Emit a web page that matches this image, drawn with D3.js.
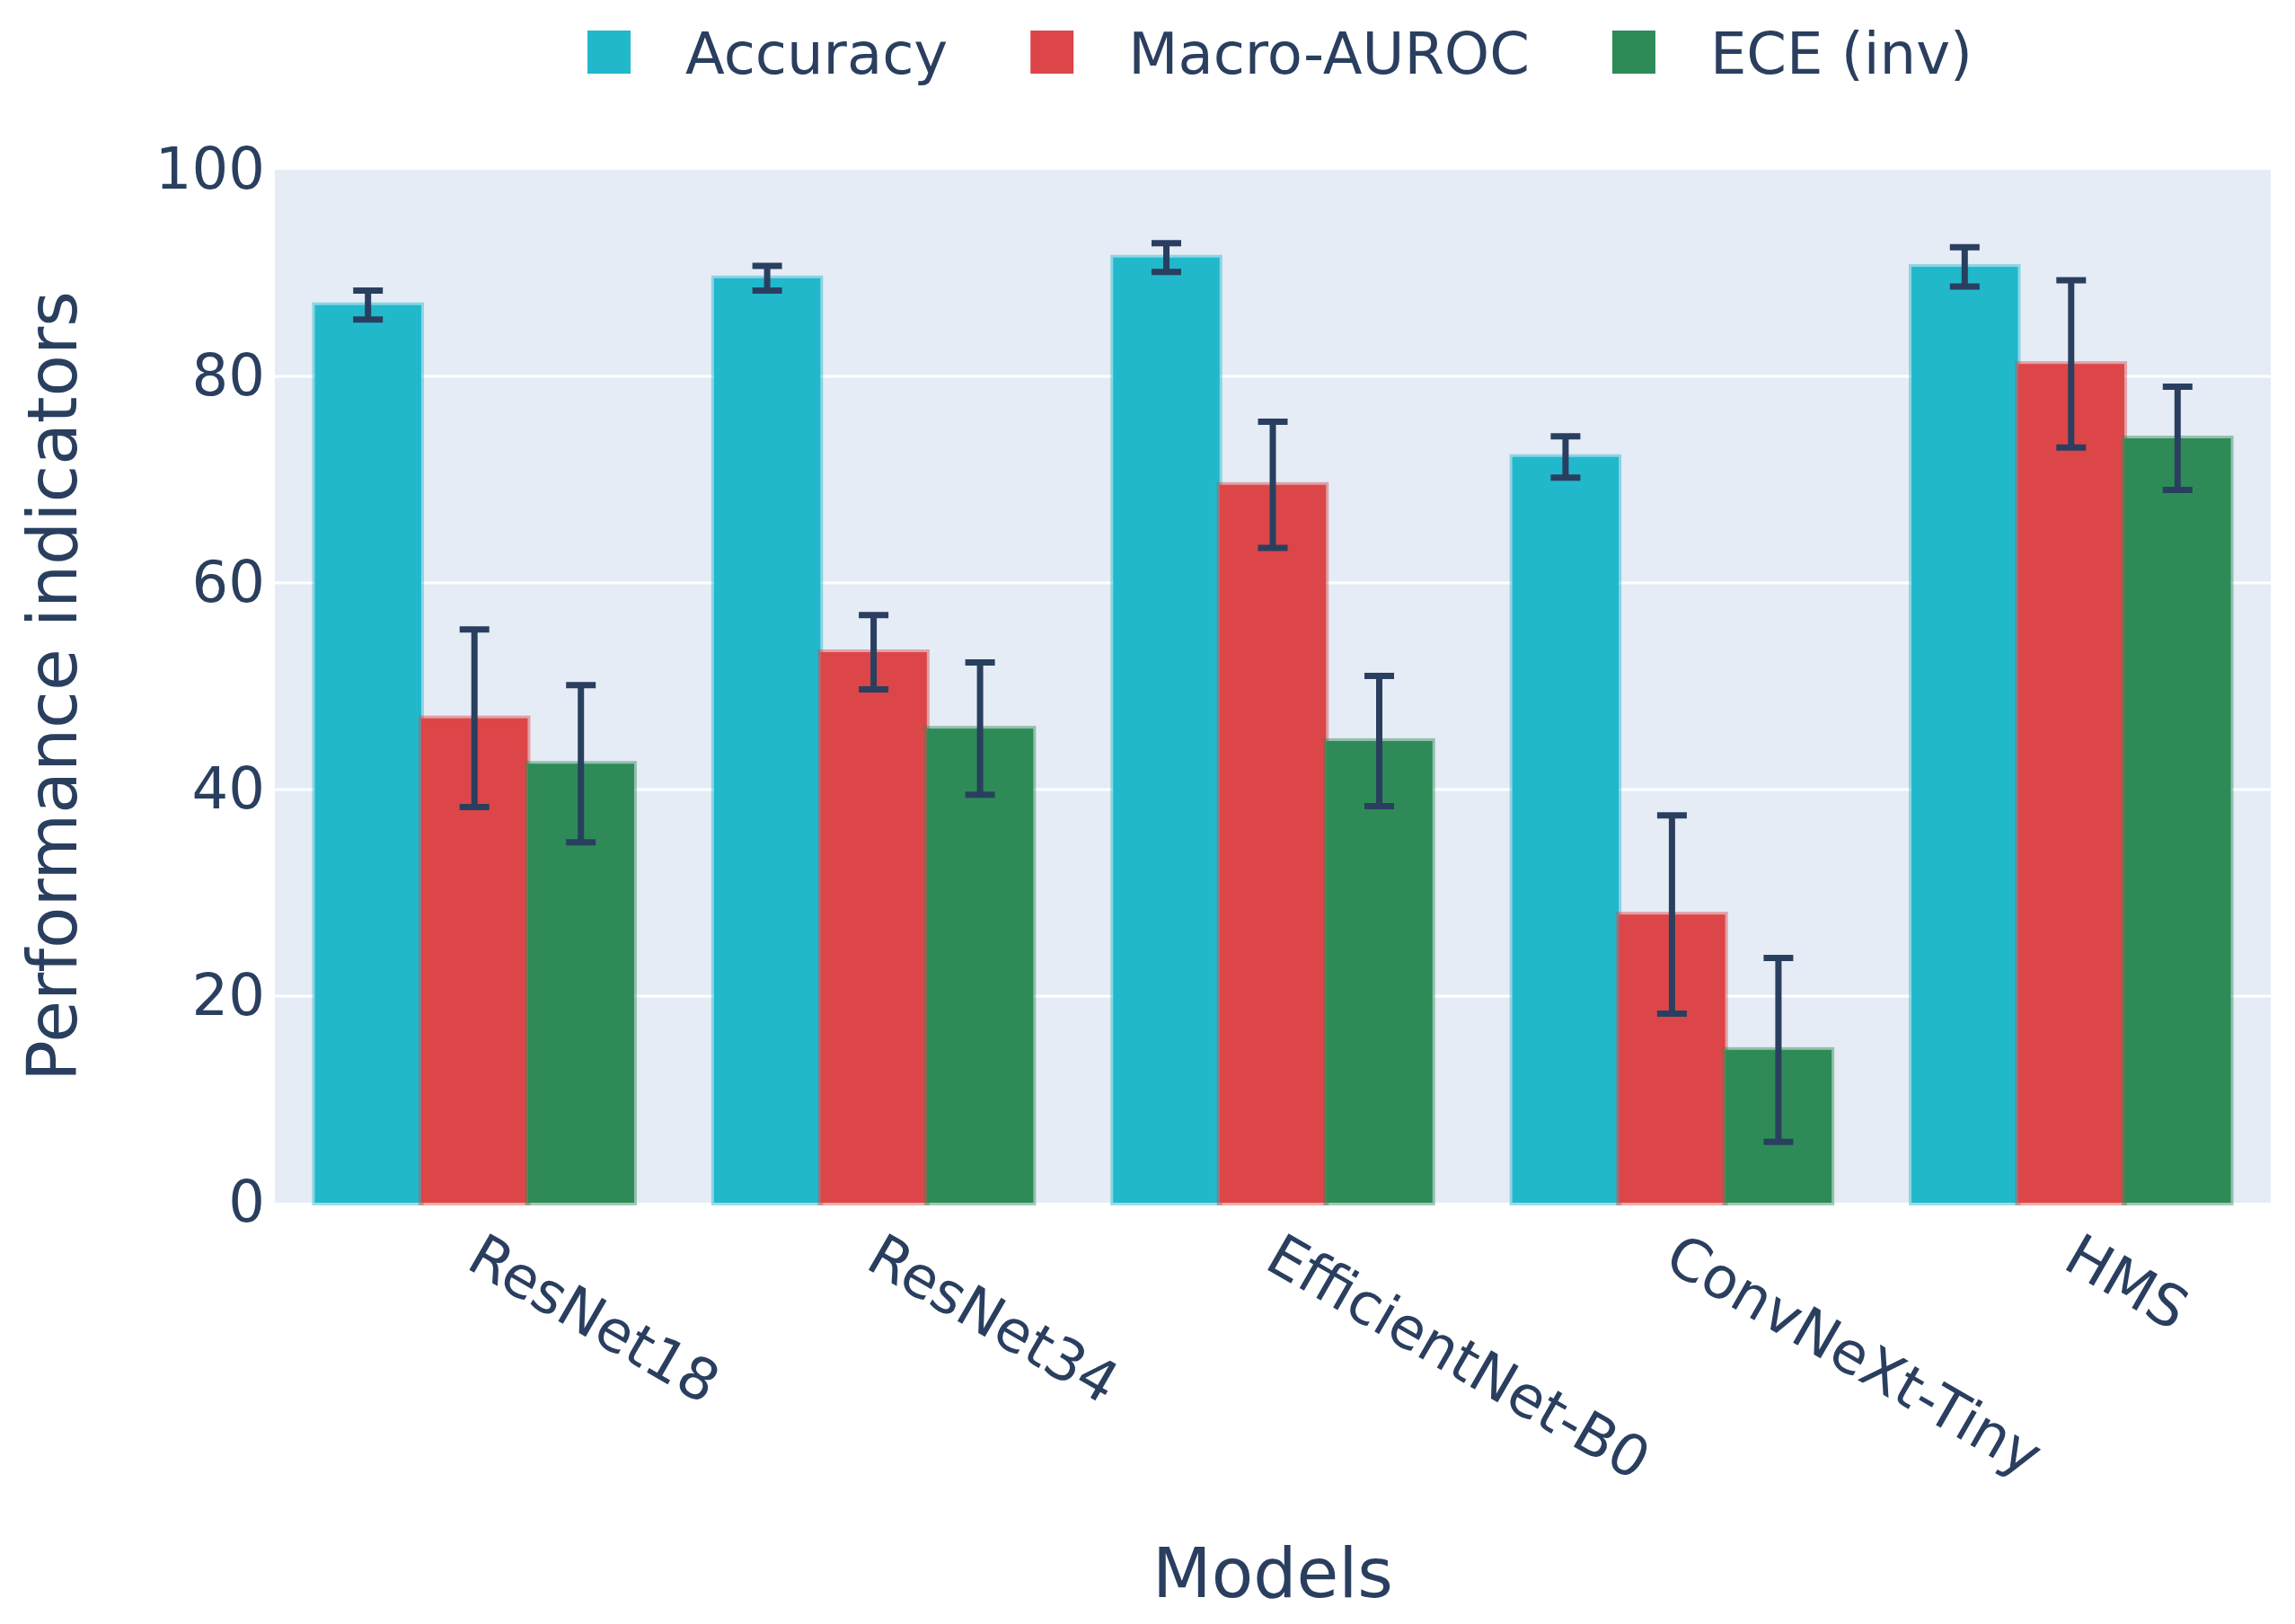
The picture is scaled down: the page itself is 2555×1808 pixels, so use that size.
<!DOCTYPE html>
<html>
<head>
<meta charset="utf-8">
<script src="https://cdn.jsdelivr.net/npm/d3@7"></script>
<style>
  body { margin: 0; background: #fff; }
  text { font-family: "DejaVu Sans", Verdana, sans-serif; fill: #2a3f5f; }
</style>
</head>
<body>
<svg id="chart" width="2555" height="1808"></svg>
<script>
// values
const models = ["ResNet18", "ResNet34", "EfficientNet-B0", "ConvNeXt-Tiny", "HMS"];
const seriesNames = ["Accuracy", "Macro-AUROC", "ECE (inv)"];
const accuracy = [86.9, 89.5, 91.5, 72.2, 90.6];
const accuracyErr = [1.4, 1.2, 1.4, 2.0, 1.9];
const macroAuroc = [46.9, 53.3, 69.5, 27.9, 81.2];
const macroAurocErr = [8.6, 3.6, 6.1, 9.6, 8.1];
const eceInv = [42.5, 45.9, 44.7, 14.8, 74.0];
const eceInvErr = [7.6, 6.4, 6.3, 8.9, 5.0];
const yTicks = [0, 20, 40, 60, 80, 100];

const colors = ["#21b8cc", "#dc4648", "#2e8b57"];
const values = [accuracy, macroAuroc, eceInv];
const errors = [accuracyErr, macroAurocErr, eceInvErr];

const W = 2555, H = 1808;
const m = { left: 306, right: 2528, top: 189, bottom: 1339 };

const svg = d3.select("#chart");

// plot background
svg.append("rect")
  .attr("x", m.left).attr("y", m.top)
  .attr("width", m.right - m.left).attr("height", m.bottom - m.top)
  .attr("fill", "#e5ecf6");

const x0 = d3.scaleBand().domain(models).range([m.left, m.right])
  .paddingInner(0.2).paddingOuter(0.1);
const x1 = d3.scaleBand().domain(seriesNames).range([0, x0.bandwidth()]);
const y = d3.scaleLinear().domain([0, 100]).range([m.bottom, m.top]);

// grid
svg.append("g").selectAll("line")
  .data(yTicks.filter(t => t > 0 && t < 100))
  .join("line")
  .attr("x1", m.left).attr("x2", m.right)
  .attr("y1", d => y(d)).attr("y2", d => y(d))
  .attr("stroke", "#fff").attr("stroke-width", 3);

// y axis
const yAxis = svg.append("g")
  .attr("transform", `translate(${m.left - 11},0)`)
  .call(d3.axisLeft(y).tickValues(yTicks).tickSize(0).tickPadding(0));
yAxis.select(".domain").remove();
yAxis.selectAll("text")
  .attr("font-size", 64)
  .attr("font-family", "DejaVu Sans, Verdana, sans-serif")
  .attr("fill", "#2a3f5f");

// bars
seriesNames.forEach((s, si) => {
  svg.append("g").selectAll("rect")
    .data(models)
    .join("rect")
    .attr("x", (d) => x0(d) + x1(s))
    .attr("y", (d, i) => y(values[si][i]))
    .attr("width", x1.bandwidth())
    .attr("height", (d, i) => y(0) - y(values[si][i]))
    .attr("fill", colors[si])
    .attr("stroke", colors[si])
    .attr("stroke-opacity", 0.45)
    .attr("stroke-width", 6);
});

// error bars
seriesNames.forEach((s, si) => {
  const g = svg.append("g").attr("stroke", "#2a3f5f").attr("stroke-width", 7);
  models.forEach((d, i) => {
    const cx = x0(d) + x1(s) + x1.bandwidth() / 2;
    const hi = y(values[si][i] + errors[si][i]);
    const lo = y(values[si][i] - errors[si][i]);
    g.append("line").attr("x1", cx).attr("x2", cx).attr("y1", hi).attr("y2", lo);
    g.append("line").attr("x1", cx - 16.5).attr("x2", cx + 16.5).attr("y1", hi).attr("y2", hi);
    g.append("line").attr("x1", cx - 16.5).attr("x2", cx + 16.5).attr("y1", lo).attr("y2", lo);
  });
});

// x tick labels, angled
svg.append("g").selectAll("text")
  .data(models)
  .join("text")
  .attr("transform", d => `translate(${x0(d) + x0.bandwidth() / 2},${m.bottom + 52}) rotate(30)`)
  .attr("dy", "0.35em")
  .attr("text-anchor", "start")
  .attr("font-size", 64)
  .text(d => d);

// axis titles
svg.append("text")
  .attr("x", (m.left + m.right) / 2).attr("y", 1778)
  .attr("text-anchor", "middle").attr("font-size", 76)
  .text("Models");

svg.append("text")
  .attr("transform", `translate(85,${(m.top + m.bottom) / 2}) rotate(-90)`)
  .attr("text-anchor", "middle").attr("font-size", 76)
  .text("Performance indicators");

// legend
const legend = svg.append("g");
let lx = 0;
seriesNames.forEach((s, si) => {
  const item = legend.append("g").attr("transform", `translate(${lx},0)`);
  item.append("rect")
    .attr("x", 0).attr("y", 34).attr("width", 48).attr("height", 48)
    .attr("fill", colors[si]);
  const t = item.append("text")
    .attr("x", 109).attr("y", 82)
    .attr("font-size", 64)
    .text(s);
  lx += 109 + t.node().getComputedTextLength() + 92;
});
const legendW = lx - 92;
legend.attr("transform", `translate(${1425 - legendW / 2},0)`);
</script>
</body>
</html>
